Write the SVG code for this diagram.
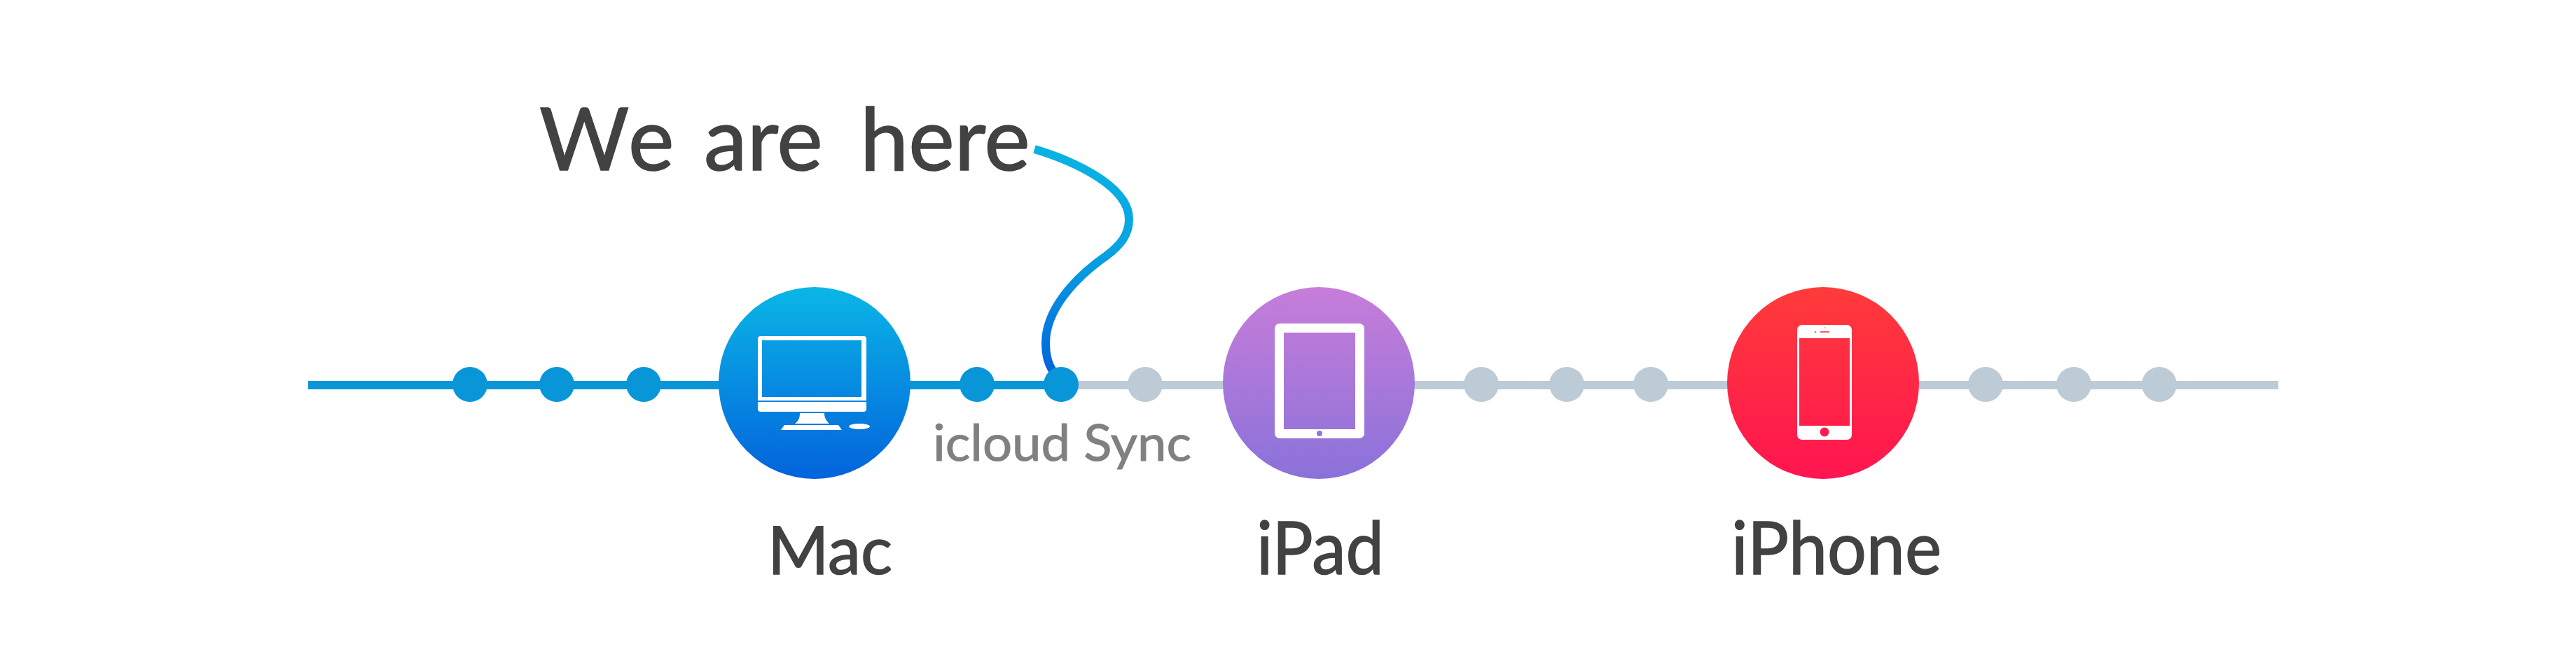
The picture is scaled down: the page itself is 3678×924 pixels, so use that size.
<svg xmlns="http://www.w3.org/2000/svg" width="3678" height="924" viewBox="0 0 3678 924">
<style>
.t{font-family:"Lato","Liberation Sans",sans-serif;fill:#424242;stroke:#424242;stroke-width:1.5}
.g{fill:#808080;stroke:#808080;stroke-width:1}
.on{fill:#0896d9}.off{fill:#bccbd5}.w{fill:#fff}
</style>
<defs>
<linearGradient id="gm" x1="0" y1="0" x2="0" y2="1"><stop offset="0" stop-color="#0ab6e6"/><stop offset="1" stop-color="#0363dc"/></linearGradient>
<linearGradient id="gp" x1="0" y1="0" x2="0" y2="1"><stop offset="0" stop-color="#c77dd9"/><stop offset="1" stop-color="#8a72da"/></linearGradient>
<linearGradient id="gi" x1="0" y1="0" x2="0" y2="1"><stop offset="0" stop-color="#ff3b3a"/><stop offset="1" stop-color="#ff1550"/></linearGradient>
<linearGradient id="gc" gradientUnits="userSpaceOnUse" x1="0" y1="213" x2="0" y2="532"><stop offset="0" stop-color="#0ab2e4"/><stop offset="0.45" stop-color="#08a4e2"/><stop offset="1" stop-color="#0363dc"/></linearGradient>
</defs>
<rect width="3678" height="924" fill="#fff"/>
<g id="connectors">
<rect class="on" x="440" y="544" width="1075" height="12"/>
<rect class="off" x="1515" y="544" width="1738" height="12"/>
<path d="M1477 213C1540 232 1612 268 1612 313C1612 335 1600 350 1580 365C1530 400 1493 445 1493 490C1493 510 1497 522 1505 532" fill="none" stroke="url(#gc)" stroke-width="12"/>
</g>
<g id="stops-active" class="on">
<circle cx="671" cy="549" r="25"/><circle cx="795" cy="549" r="25"/><circle cx="919" cy="549" r="25"/>
<circle cx="1395" cy="549" r="25"/><circle cx="1515" cy="549" r="25"/>
</g>
<g id="stops-pending" class="off">
<circle cx="1635" cy="549" r="25"/>
<circle cx="2115" cy="549" r="25"/><circle cx="2237" cy="549" r="25"/><circle cx="2357" cy="549" r="25"/>
<circle cx="2835" cy="549" r="25"/><circle cx="2961" cy="549" r="25"/><circle cx="3083" cy="549" r="25"/>
</g>
<g id="mac">
<circle cx="1163" cy="547" r="137" fill="url(#gm)"/>
<path class="w" fill-rule="evenodd" d="M1086 480H1233a4 4 0 0 1 4 4V572H1082V484a4 4 0 0 1 4-4ZM1088 486V567H1230V486Z"/>
<path class="w" d="M1082 574H1237V584a4 4 0 0 1-4 4H1086a4 4 0 0 1-4-4Z"/>
<path class="w" d="M1142 590H1177C1177 597 1180 601 1184 605H1135C1140 601 1142 597 1142 590Z"/>
<path class="w" d="M1120 607H1197L1202 614H1115Z"/>
<ellipse class="w" cx="1227" cy="609" rx="15" ry="4"/>
</g>
<g id="ipad">
<circle cx="1883" cy="547" r="137" fill="url(#gp)"/>
<path class="w" fill-rule="evenodd" d="M1827 462H1941a7 7 0 0 1 7 7V619a7 7 0 0 1-7 7H1827a7 7 0 0 1-7-7V469a7 7 0 0 1 7-7ZM1833 475V613H1935V475Z"/>
<circle cx="1884" cy="619" r="4" fill="#9276da"/>
</g>
<g id="iphone">
<circle cx="2603" cy="547" r="137" fill="url(#gi)"/>
<path class="w" fill-rule="evenodd" d="M2573 464H2637a7 7 0 0 1 7 7V621a7 7 0 0 1-7 7H2573a7 7 0 0 1-7-7V471a7 7 0 0 1 7-7ZM2569 483V608H2641V483Z"/>
<circle cx="2605" cy="617" r="6.5" fill="#ff1c4d"/>
<rect x="2599" y="473" width="13" height="2" fill="#ff5a6a"/>
<circle cx="2592" cy="474" r="1.3" fill="#ff5a6a"/>
<circle cx="2605" cy="468" r="0.8" fill="#ff5a6a"/>
</g>
<g id="labels">
<text class="t" y="243" font-size="124"><tspan x="770">W</tspan><tspan x="897">e</tspan> <tspan x="1005">are</tspan> <tspan x="1228">here</tspan></text>
<text class="t" x="1096" y="820" font-size="95" textLength="178" lengthAdjust="spacingAndGlyphs">Mac</text>
<text class="t" x="1794" y="820" font-size="105" textLength="182" lengthAdjust="spacingAndGlyphs">iPad</text>
<text class="t" x="2472" y="820" font-size="105" textLength="300" lengthAdjust="spacingAndGlyphs">iPhone</text>
<text class="t g" x="1332" y="658" font-size="72" textLength="369" lengthAdjust="spacingAndGlyphs">icloud Sync</text>
</g>
</svg>
